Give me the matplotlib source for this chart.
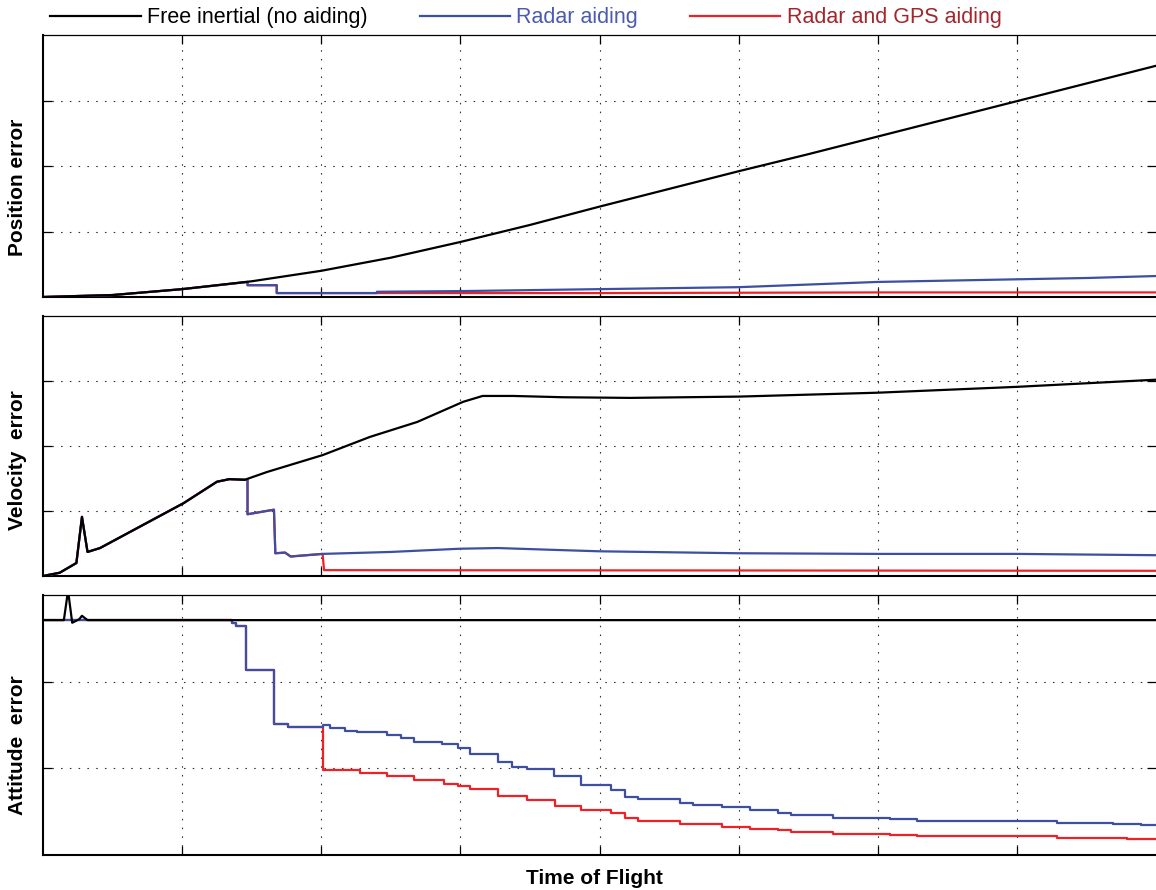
import matplotlib
matplotlib.use("Agg")
import matplotlib.pyplot as plt
from matplotlib.lines import Line2D

plt.rcParams['font.family'] = ['Liberation Sans', 'DejaVu Sans']

# ---------------- data ----------------
series_names = ["Free inertial (no aiding)", "Radar aiding", "Radar and GPS aiding"]
panel_labels = ["Position error", "Velocity  error", "Attitude  error"]
xlabel_text = "Time of Flight"

# Position error
pos_free_t = [0, 0.5, 1.0, 1.5, 2.0, 2.5, 3.0, 3.25, 3.5, 4.0, 4.5, 5.0, 5.5, 6.0, 6.5, 7.0, 7.5, 8.0]
pos_free_v = [0, 0.03, 0.12, 0.24, 0.40, 0.60, 0.84, 0.97, 1.10, 1.38, 1.65, 1.92, 2.18, 2.45, 2.72, 2.99, 3.26, 3.53]
pos_radar_t = [0, 0.5, 1.0, 1.47, 1.47, 1.68, 1.68, 2.4, 2.4, 3.0, 4.0, 5.0, 6.0, 7.0, 7.5, 8.0]
pos_radar_v = [0, 0.03, 0.12, 0.23, 0.18, 0.18, 0.06, 0.06, 0.08, 0.09, 0.12, 0.15, 0.23, 0.27, 0.29, 0.32]
pos_gps_t = [0, 0.5, 1.0, 1.47, 1.47, 1.68, 1.68, 2.0, 4.0, 6.0, 8.0]
pos_gps_v = [0, 0.03, 0.12, 0.23, 0.18, 0.18, 0.06, 0.06, 0.06, 0.07, 0.07]

# Velocity error
vel_free_t = [0, 0.12, 0.24, 0.28, 0.32, 0.41, 1.01, 1.25, 1.34, 1.45, 1.61, 2.01, 2.35, 2.69,
              3.02, 3.16, 3.38, 3.74, 4.22, 5.0, 6.0, 7.0, 8.0]
vel_free_v = [0, 0.05, 0.20, 0.91, 0.37, 0.43, 1.12, 1.45, 1.49, 1.48, 1.60, 1.86, 2.14, 2.37,
              2.68, 2.77, 2.77, 2.75, 2.74, 2.76, 2.82, 2.91, 3.02]
vel_radar_t = [0, 0.12, 0.24, 0.28, 0.32, 0.41, 1.01, 1.25, 1.34, 1.47, 1.47, 1.66, 1.67, 1.74,
               1.78, 2.01, 2.5, 3.0, 3.27, 3.7, 4.0, 5.0, 6.0, 7.0, 8.0]
vel_radar_v = [0, 0.05, 0.20, 0.91, 0.37, 0.43, 1.12, 1.45, 1.49, 1.48, 0.95, 1.02, 0.35, 0.36,
               0.30, 0.34, 0.37, 0.42, 0.43, 0.40, 0.38, 0.35, 0.34, 0.34, 0.32]
vel_gps_t = [0, 0.12, 0.24, 0.28, 0.32, 0.41, 1.01, 1.25, 1.34, 1.47, 1.47, 1.66, 1.67, 1.74,
             1.78, 2.01, 2.02, 8.0]
vel_gps_v = [0, 0.05, 0.20, 0.91, 0.37, 0.43, 1.12, 1.45, 1.49, 1.48, 0.95, 1.02, 0.35, 0.36,
             0.30, 0.34, 0.09, 0.08]

# Attitude error
att_free_t = [0, 0.15, 0.18, 0.21, 0.26, 0.28, 0.32, 8.0]
att_free_v = [2.71, 2.71, 3.05, 2.68, 2.72, 2.76, 2.71, 2.71]
att_radar_t = [0, 1.36, 1.39, 1.46, 1.66, 1.76, 2.01, 2.06, 2.17, 2.26, 2.47, 2.57, 2.67, 2.87,
               2.98, 3.07, 3.27, 3.37, 3.48, 3.67, 3.87, 4.08, 4.18, 4.28, 4.58, 4.67, 4.88,
               5.08, 5.28, 5.38, 5.68, 6.09, 6.28, 7.29, 7.69, 7.89, 8.0]
att_radar_v = [2.71, 2.68, 2.64, 2.13, 1.51, 1.48, 1.50, 1.46, 1.43, 1.42, 1.38, 1.35, 1.30, 1.28,
               1.23, 1.16, 1.07, 1.01, 0.99, 0.91, 0.81, 0.75, 0.67, 0.65, 0.60, 0.58, 0.55,
               0.52, 0.48, 0.46, 0.43, 0.42, 0.39, 0.37, 0.36, 0.35, 0.35]
att_gps_t = [0, 1.36, 1.39, 1.46, 1.66, 1.76, 2.01, 2.28, 2.47, 2.67, 2.88, 2.98, 3.07, 3.27,
             3.48, 3.68, 3.87, 4.08, 4.18, 4.28, 4.58, 4.88, 5.08, 5.28, 5.38, 5.68, 6.09,
             6.28, 7.29, 7.79, 8.0]
att_gps_v = [2.71, 2.68, 2.64, 2.13, 1.51, 1.48, 0.98, 0.95, 0.91, 0.87, 0.82, 0.80, 0.76, 0.68,
             0.63, 0.57, 0.52, 0.48, 0.43, 0.39, 0.36, 0.32, 0.30, 0.29, 0.27, 0.24, 0.23,
             0.22, 0.20, 0.18, 0.18]

x_limits = (0, 8)
x_grid = [1, 2, 3, 4, 5, 6, 7]
y_limits = [(0, 4), (0, 4), (0, 3)]
y_grid = [[1, 2, 3], [1, 2, 3], [1, 2]]

# ---------------- style ----------------
c_free = "#000000"
c_radar = "#3c4fa3"
c_gps = "#ee2226"
txt_colors = ["#000000", "#4a5bb0", "#a3262c"]
lw = 1.6

W, H = 1156, 890
fig = plt.figure(figsize=(W / 100, H / 100), dpi=100)

boxes = [(35, 297), (316, 576), (595, 855)]
axes = []
for top, bot in boxes:
    ax = fig.add_axes([43 / W, 1 - bot / H, 1 - 43 / W, (bot - top) / H])
    axes.append(ax)

def style(ax, ylim, yg):
    ax.set_xlim(*x_limits)
    ax.set_ylim(*ylim)
    ax.set_xticks(x_grid)
    ax.set_yticks(yg)
    ax.set_xticklabels([])
    ax.set_yticklabels([])
    ax.tick_params(direction="in", length=6.5, width=0.9, top=True, right=True,
                   color="#000000")
    ax.grid(True, color="#333333", linewidth=0.8, linestyle=(0, (1.4, 6.5)))
    ax.spines["left"].set_linewidth(1.5)
    ax.spines["bottom"].set_linewidth(1.5)
    ax.spines["top"].set_linewidth(0.9)
    ax.spines["right"].set_visible(False)

panels = [
    (pos_free_t, pos_free_v, pos_radar_t, pos_radar_v, pos_gps_t, pos_gps_v, False),
    (vel_free_t, vel_free_v, vel_radar_t, vel_radar_v, vel_gps_t, vel_gps_v, False),
    (att_free_t, att_free_v, att_radar_t, att_radar_v, att_gps_t, att_gps_v, True),
]

for i, (ax, p) in enumerate(zip(axes, panels)):
    ft, fv, rt, rv, gt, gv, steps = p
    ds = "steps-post" if steps else "default"
    ax.plot(gt, gv, color=c_gps, lw=lw, drawstyle=ds, zorder=3)
    ax.plot(rt, rv, color=c_radar, lw=lw, drawstyle=ds, zorder=4)
    ax.plot(ft, fv, color=c_free, lw=lw, zorder=5)
    style(ax, y_limits[i], y_grid[i])

label_centers = [187, 460, 745]
for lab, yc in zip(panel_labels, label_centers):
    fig.text(18 / W, 1 - yc / H, lab, rotation=90, ha="center", va="center",
             fontsize=15, fontweight="bold")

fig.text(594 / W, 1 - 879 / H, xlabel_text, ha="center", va="center",
         fontsize=15, fontweight="bold")

handles = [Line2D([], [], color=c, lw=lw) for c in (c_free, c_radar, c_gps)]
leg = fig.legend(handles, series_names, loc="center", bbox_to_anchor=(0.455, 1 - 18 / H),
                 ncol=3, frameon=False, fontsize=15.5, handlelength=4.2,
                 handletextpad=0.3, columnspacing=2.4, borderaxespad=0)
for t, c in zip(leg.get_texts(), txt_colors):
    t.set_color(c)

fig.savefig("out.png", dpi=100)
